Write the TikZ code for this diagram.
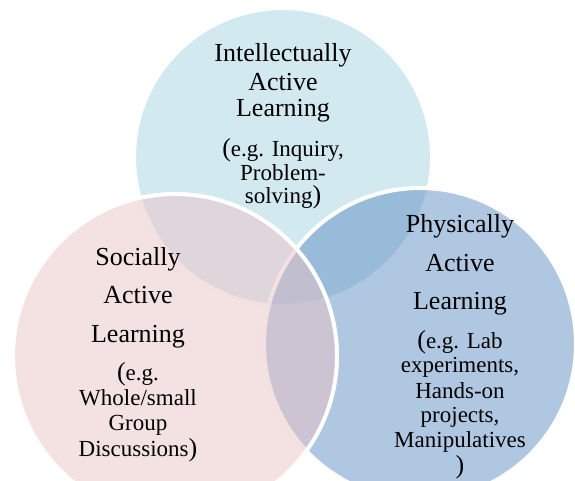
\documentclass[tikz,border=0pt]{standalone}
\usepackage{fontspec}
\setmainfont{Liberation Serif}
\usepackage{xcolor}
\usepackage{tikz}

\definecolor{intblue}{RGB}{167,211,225}
\definecolor{phyblue}{RGB}{97,143,197}
\definecolor{socpink}{RGB}{233,195,197}
\newcommand{\bigpar}[1]{{\fontsize{19.5}{20}\selectfont #1}}

\begin{document}
\begin{tikzpicture}[
                x = 0.75pt, y = -0.75pt,
                venn/.style = {draw = white, line width = 3pt, fill opacity = 0.5},
                title/.style = {anchor = base, font = \fontsize{19.5}{22}\selectfont},
                example/.style = {anchor = base, font = \fontsize{17.25}{19}\selectfont}]
                \path[use as bounding box, clip] (0,0) rectangle (575,481);
                \draw[venn, fill = intblue] (283,157) circle (149);
                \draw[venn, fill = phyblue] (420,344) circle (156);
                \draw[venn, fill = socpink] (175,356) circle (162);
                \foreach \txt/\y [count = \i] in {Intellectually/62, Active/91, Learning/117}
                    \node[title] (int-title-\i) at (283,\y) {\txt};
                \foreach \txt/\y [count = \i] in {{\bigpar{(}e.g. Inquiry,}/157, Problem-/181, {solving\bigpar{)}}/204}
                    \node[example] (int-ex-\i) at (283,\y) {\txt};
                \foreach \txt/\y [count = \i] in {Socially/265, Active/303, Learning/342}
                    \node[title] (soc-title-\i) at (138,\y) {\txt};
                \foreach \txt/\y [count = \i] in {{\bigpar{(}e.g.}/380, {Whole/small}/405, Group/430, {Discussions\bigpar{)}}/456}
                    \node[example] (soc-ex-\i) at (138,\y) {\txt};
                \foreach \txt/\y [count = \i] in {Physically/233, Active/272, Learning/310}
                    \node[title] (phy-title-\i) at (460,\y) {\txt};
                \foreach \txt/\y [count = \i] in {{\bigpar{(}e.g. Lab}/348, {experiments,}/372, Hands-on/398, {projects,}/422, Manipulatives/447, {\bigpar{)}}/473}
                    \node[example] (phy-ex-\i) at (460,\y) {\txt};
            \end{tikzpicture}
\end{document}
